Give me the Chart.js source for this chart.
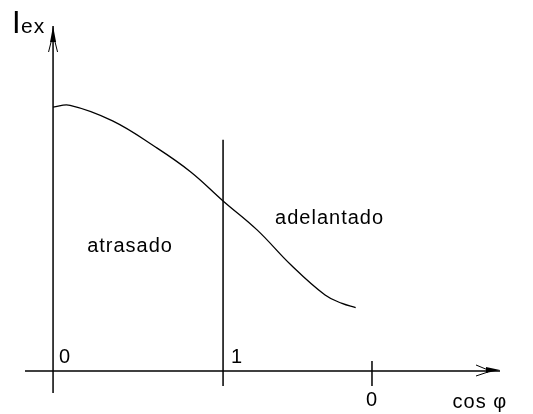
<!DOCTYPE html>
<html>
<head>
<meta charset="utf-8">
<script src="https://cdn.jsdelivr.net/npm/chart.js@4"></script>
<style>
  html, body { margin: 0; padding: 0; background: #fff; }
  #wrap { width: 533px; height: 414px; }
</style>
</head>
<body>
<div id="wrap"><canvas id="c" width="533" height="414"></canvas></div>
<script>
// Curve Iex vs cos φ (x: 0 = lagging origin, 1 = unity, ~1.88 = leading 0)
const curveX = [0, 0.1, 0.35, 0.6, 0.81, 1.0, 1.2, 1.4, 1.6, 1.7, 1.78];
const curveY = [7.65, 7.70, 7.25, 6.5, 5.77, 4.93, 4.09, 3.07, 2.2, 1.96, 1.84];
// Axis tick positions and labels
const tickX = [0, 1, 1.876];
const tickLabels = ['0', '1', '0'];
// Axis and region texts
const yAxisTitle = ['I', 'ex'];
const xAxisTitle = 'cos φ';
const regionLabels = ['atrasado', 'adelantado'];
// Axis extents (data units)
const xRange = [-0.165, 2.629];
const yRange = [-0.638, 10];
// Unity line height and leading tick extents
const unityTop = 6.7;
const tickBottom = -0.435;
const leadTickTop = 0.29;

const curve = curveX.map((x, i) => ({ x: x, y: curveY[i] }));

const overlay = {
  id: 'overlay',
  afterDatasetsDraw(chart) {
    const ctx = chart.ctx;
    const xs = chart.scales.x, ys = chart.scales.y;
    const px = v => xs.getPixelForValue(v);
    const py = v => ys.getPixelForValue(v);
    ctx.save();
    ctx.fillStyle = '#000';
    ctx.strokeStyle = '#000';
    // Y arrow head
    const yx = px(0), yt = py(yRange[1]);
    ctx.lineWidth = 1;
    ctx.beginPath();
    ctx.moveTo(yx, yt); ctx.lineTo(yx - 3, yt + 16); ctx.lineTo(yx + 3, yt + 16); ctx.closePath(); ctx.fill();
    ctx.beginPath();
    ctx.moveTo(yx - 1, yt + 12); ctx.lineTo(yx - 4.5, yt + 26);
    ctx.moveTo(yx + 1, yt + 12); ctx.lineTo(yx + 4.5, yt + 26);
    ctx.stroke();
    // X arrow head
    const xr = px(xRange[1]), xy = py(0);
    ctx.beginPath();
    ctx.moveTo(xr, xy - 1); ctx.lineTo(xr - 14, xy - 4); ctx.lineTo(xr - 14, xy + 2); ctx.closePath(); ctx.fill();
    ctx.beginPath();
    ctx.moveTo(xr - 12, xy - 1); ctx.lineTo(xr - 24, xy - 6);
    ctx.moveTo(xr - 12, xy + 1); ctx.lineTo(xr - 24, xy + 5);
    ctx.stroke();

    ctx.font = '20px "Liberation Sans", Arial, sans-serif';
    try { ctx.letterSpacing = '1px'; } catch (e) {}
    ctx.textBaseline = 'alphabetic';
    // tick labels
    ctx.textAlign = 'left';
    ctx.fillText(tickLabels[0], px(tickX[0]) + 6, xy - 8);
    ctx.fillText(tickLabels[1], px(tickX[1]) + 8, xy - 8);
    ctx.textAlign = 'center';
    ctx.fillText(tickLabels[2], px(tickX[2]), xy + 35);
    // x title
    ctx.textAlign = 'left';
    ctx.fillText(xAxisTitle, px(2.35), xy + 37);
    // region labels
    ctx.textAlign = 'center';
    ctx.fillText(regionLabels[0], px(0.453), py(3.45));
    ctx.textAlign = 'left';
    ctx.fillText(regionLabels[1], px(1.306), py(4.26));
    // y title
    ctx.font = '31px "Liberation Sans", Arial, sans-serif';
    ctx.fillText(yAxisTitle[0], 12, 33);
    ctx.font = '21px "Liberation Sans", Arial, sans-serif';
    ctx.fillText(yAxisTitle[1], 21, 33);
    ctx.restore();
  }
};

const line = (data, w) => ({
  data: data, showLine: true, borderColor: '#000', borderWidth: w,
  pointRadius: 0, fill: false, tension: 0
});

new Chart(document.getElementById('c'), {
  type: 'scatter',
  data: {
    datasets: [
      Object.assign(line(curve, 1.3), { tension: 0.4 }),
      line([{ x: tickX[1], y: unityTop }, { x: tickX[1], y: tickBottom }], 1.5),
      line([{ x: tickX[2], y: leadTickTop }, { x: tickX[2], y: tickBottom }], 1.5),
      line([{ x: xRange[0], y: 0 }, { x: xRange[1], y: 0 }], 1.5),
      line([{ x: 0, y: yRange[0] }, { x: 0, y: yRange[1] }], 1.5)
    ]
  },
  options: {
    responsive: false,
    animation: false,
    layout: { padding: { left: 25, right: 33, top: 26, bottom: 21 } },
    plugins: { legend: { display: false }, tooltip: { enabled: false } },
    scales: {
      x: { type: 'linear', display: false, min: xRange[0], max: xRange[1] },
      y: { type: 'linear', display: false, min: yRange[0], max: yRange[1] }
    }
  },
  plugins: [overlay]
});
</script>
</body>
</html>
